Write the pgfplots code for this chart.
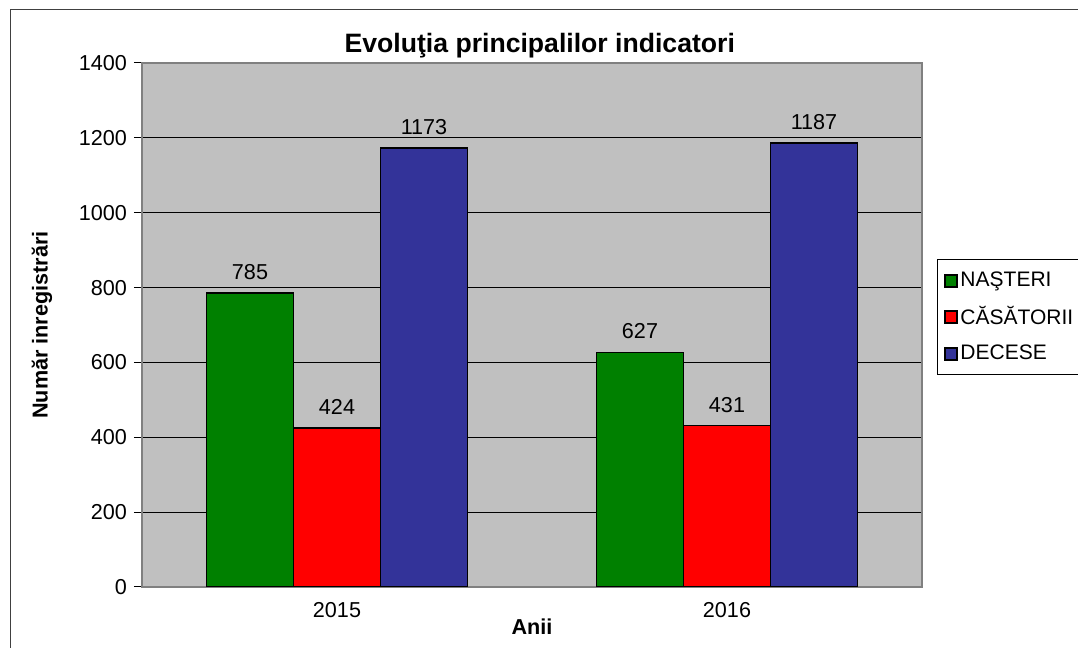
\documentclass[border=0pt]{standalone}
\usepackage{pgfplots}
\pgfplotsset{compat=1.18}
\usepackage{fontspec}
\setmainfont{Liberation Sans}
\definecolor{cgreen}{HTML}{008000}
\definecolor{cred}{HTML}{FF0000}
\definecolor{cblue}{HTML}{333399}
\definecolor{cbg}{HTML}{C0C0C0}
\begin{document}
\begin{tikzpicture}
\useasboundingbox (0pt,0pt) rectangle (539pt,324pt);
\draw[black!75, line width=0.5pt] (5pt,0pt) -- (5pt,319pt) -- (539pt,319pt);
\begin{axis}[
  at={(71pt,30.5pt)}, anchor=south west,
  scale only axis, width=390pt, height=262pt,
  xmin=-0.5, xmax=1.5, ymin=0, ymax=1400,
  ybar=0pt, bar width=43.5pt,
  axis background/.style={fill=cbg},
  axis line style={draw=black!50, line width=0.8pt},
  ymajorgrids, grid style={black, line width=0.5pt},
  ytick={0,200,...,1400},
  xtick={0,1}, xticklabels={2015,2016},
  major x tick style={draw=none},
  extra x ticks={-0.5,0.5,1.5}, extra x tick labels={},
  extra x tick style={major tick length=4pt, tick style={black}, xmajorgrids=false},
  tick align=outside, major tick length=4pt,
  tick style={black, line width=0.5pt},
  xtick pos=bottom, ytick pos=left,
  /pgf/number format/assume math mode=true,
  /pgf/number format/1000 sep={},
  tick label style={font=\fontsize{10.8}{12}\selectfont},
  xticklabel style={yshift=0pt},
  title={\textbf{Evoluţia principalilor indicatori}},
  title style={font=\fontsize{13.3}{15}\selectfont, at={(0.51,1)}, anchor=south, yshift=-7pt},
  xlabel={\textbf{Anii}}, xlabel style={font=\fontsize{10.8}{12}\selectfont, yshift=14pt},
  ylabel={\textbf{Număr inregistrări}}, ylabel style={font=\fontsize{10.8}{12}\selectfont, yshift=6.5pt},
  nodes near coords,
  every node near coord/.append style={font=\fontsize{10.8}{12}\selectfont, black, yshift=3pt},
  legend style={at={(1,0.515)}, anchor=west, xshift=7.5pt, draw=black, line width=0.5pt,
    font=\fontsize{10.5}{12}\selectfont, row sep=4.5pt, inner xsep=3pt, inner ysep=4pt,
    nodes={inner xsep=1.5pt}},
  legend cell align=left,
  legend image code/.code={\draw[#1, line width=1pt] (0pt,-3pt) rectangle (6pt,3pt);},
]
\addplot[fill=cgreen, draw=black, line width=0.8pt] coordinates {(0,785) (1,627)};
\addplot[fill=cred, draw=black, line width=0.8pt] coordinates {(0,424) (1,431)};
\addplot[fill=cblue, draw=black, line width=0.8pt] coordinates {(0,1173) (1,1187)};
\legend{NAŞTERI, CĂSĂTORII, DECESE}
\end{axis}
\end{tikzpicture}
\end{document}
